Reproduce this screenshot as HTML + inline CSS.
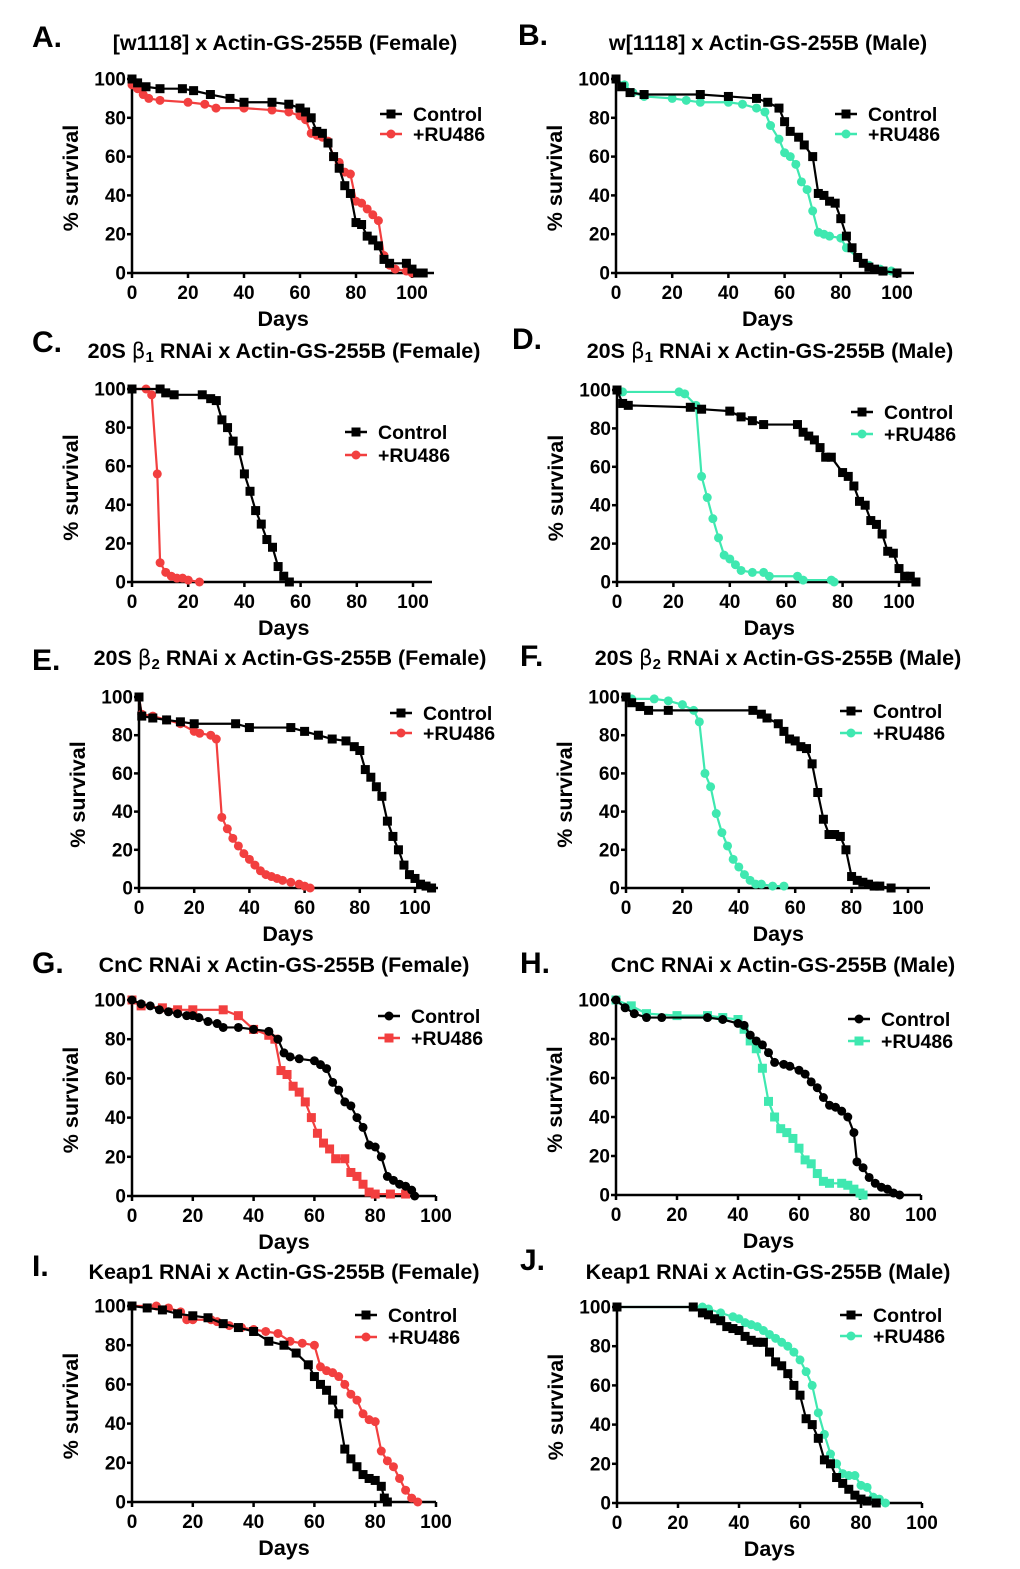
<!DOCTYPE html>
<html><head><meta charset="utf-8"><style>
html,body{margin:0;padding:0;background:#fff;}
svg{display:block;font-family:"Liberation Sans",Arial,sans-serif;font-weight:bold;}
</style></head><body>
<svg id="fig" width="1020" height="1569" viewBox="0 0 1020 1569" xmlns="http://www.w3.org/2000/svg"></svg>
<script>
// ---- data (days / % survival) ----
const aCtrlDays=[0,2,5,10,18,22,28,35,40,50,56,60,62,64,66,68,70,72,74,76,78,80,82,84,86,88,90,92,98,100,102,104];
const aCtrlVals=[100,98,96,95,95,94,92,90,88,88,87,85,83,80,73,72,67,60,54,45,41,26,25,19,17,14,7,5,5,2,0,0];
const aRuDays=[0,2,4,6,10,20,26,30,40,50,56,60,62,64,66,68,70,72,74,76,78,80,82,84,86,88,90,92,94,98,100];
const aRuVals=[97,95,92,90,89,88,87,85,85,84,83,81,79,72,71,70,68,60,57,52,51,37,36,33,30,27,9,4,2,1,0];

const bCtrlDays=[0,2,5,10,30,40,50,54,58,60,62,65,67,70,72,74,76,78,80,82,84,86,88,90,92,95,100];
const bCtrlVals=[100,96,93,92,92,91,90,88,85,78,73,70,66,60,41,40,37,36,28,19,13,8,5,3,2,1,0];
const bRuDays=[0,3,6,10,20,25,30,40,45,50,53,55,58,60,62,64,66,68,70,72,74,76,80,82,86,90,94,98];
const bRuVals=[100,97,93,91,90,89,88,88,87,85,83,76,69,62,60,56,47,43,32,21,20,19,18,13,8,4,2,1];

const cCtrlDays=[0,10,12,15,25,28,30,32,34,36,38,40,42,44,46,48,50,52,54,56];
const cCtrlVals=[100,100,98,97,97,95,94,84,80,73,68,56,47,37,30,22,18,8,3,0];
const cRuDays=[0,5,7,9,10,12,14,16,18,20,24];
const cRuVals=[100,100,97,56,10,5,3,2,2,1,0];

const dCtrlDays=[0,2,4,26,30,40,44,48,52,64,66,68,70,72,74,76,80,82,84,86,88,90,92,94,96,98,100,102,104,106];
const dCtrlVals=[100,93,92,91,90,89,86,84,82,82,78,76,74,70,65,65,57,55,50,42,40,32,30,25,16,15,7,3,3,0];
const dRuDays=[0,2,22,24,28,30,32,34,36,38,40,42,44,48,52,54,64,66,76,77];
const dRuVals=[100,99,99,98,92,55,44,33,23,14,12,9,6,5,5,3,3,1,1,0];

const eCtrlDays=[0,1,5,10,15,20,35,40,55,60,65,70,75,78,80,82,84,86,88,90,92,94,96,98,100,102,104,106];
const eCtrlVals=[100,90,89,88,87,86,86,84,84,82,80,78,77,74,72,62,58,53,48,35,27,20,12,7,5,2,1,0];
const eRuDays=[0,1,5,10,15,20,22,26,28,30,32,34,36,38,40,42,44,46,48,50,52,55,58,60,62];
const eRuVals=[100,91,90,88,86,82,81,80,78,37,31,26,22,18,15,12,9,7,6,5,4,3,2,1,0];

const fCtrlDays=[0,2,5,8,15,45,48,50,54,56,58,60,62,64,66,68,70,72,74,76,78,80,82,84,86,88,90,94];
const fCtrlVals=[100,97,95,93,93,93,91,89,86,82,78,77,74,73,65,50,36,28,28,27,20,6,4,3,2,1,1,0];
const fRuDays=[0,2,10,15,20,24,26,28,30,32,34,36,38,40,42,44,46,48,52,56];
const fRuVals=[100,99,99,98,96,93,87,60,53,39,29,22,15,11,7,4,2,2,1,1];

const gCtrlDays=[0,3,6,9,12,15,18,20,22,25,28,30,35,40,45,48,50,52,55,60,62,64,66,68,70,72,74,76,78,80,82,84,86,88,90,92,93];
const gCtrlVals=[100,98,97,95,94,93,92,92,91,89,88,86,86,85,84,80,73,71,70,69,67,65,58,54,48,46,40,35,26,25,20,10,8,6,5,3,0];
const gRuDays=[0,3,10,15,20,30,35,40,45,47,49,51,53,55,57,59,61,63,65,67,70,72,74,76,78,80,85,90];
const gRuVals=[100,97,96,95,95,95,92,85,82,80,64,62,56,53,48,40,32,27,24,19,19,12,10,6,2,1,1,1];

const hCtrlDays=[0,3,6,10,15,30,35,40,42,44,46,48,50,52,55,57,60,62,64,66,68,70,72,74,76,78,79,81,83,85,87,89,91,93];
const hCtrlVals=[100,96,93,91,91,91,90,88,87,82,79,77,73,68,67,66,64,62,58,55,50,46,45,43,40,32,17,14,9,6,4,3,1,0];
const hRuDays=[0,5,10,20,30,35,40,42,44,46,48,50,52,54,56,58,60,62,64,66,68,70,74,76,78,80,81];
const hRuVals=[100,97,93,92,92,91,90,85,79,75,65,48,40,34,32,29,24,18,16,11,7,6,6,5,3,1,0];

const iCtrlDays=[0,5,10,15,20,25,30,35,40,45,50,54,58,60,62,64,66,68,70,72,74,76,78,80,82,83,84];
const iCtrlVals=[100,99,98,96,95,94,91,89,87,82,80,76,70,64,60,57,52,45,27,22,18,14,12,11,8,2,0];
const iRuDays=[0,8,12,16,18,20,26,28,32,36,40,44,48,52,56,60,62,64,66,68,70,72,74,76,78,80,82,84,86,88,90,92,94];
const iRuVals=[100,100,99,97,93,93,93,92,90,89,88,87,86,82,81,80,69,67,66,64,60,55,52,45,42,41,26,21,18,12,6,2,0];

const jCtrlDays=[0,25,28,30,32,34,36,38,40,42,44,46,48,50,52,54,56,58,60,62,64,66,68,70,72,74,76,78,80,82,85];
const jCtrlVals=[100,100,97,96,94,93,90,89,88,85,83,82,82,77,72,70,66,60,55,43,40,33,22,20,13,10,7,4,2,1,0];
const jRuDays=[0,28,30,34,38,40,42,44,46,48,50,52,54,56,58,60,62,64,66,68,70,72,74,76,78,80,82,84,86,88];
const jRuVals=[100,100,99,97,95,94,92,91,90,88,86,84,82,80,77,73,67,60,46,35,25,20,15,14,14,9,8,3,2,0];

const xTicks=[0,20,40,60,80,100];
const yTicks=[0,20,40,60,80,100];

const RED="#f23f3f", TEAL="#3fe8b0", BLACK="#000";
const NS="http://www.w3.org/2000/svg";
const svg=document.getElementById('fig');
function mk(tag,attrs,parent){const e=document.createElementNS(NS,tag);for(const k in attrs)e.setAttribute(k,attrs[k]);(parent||svg).appendChild(e);return e;}

const panels=[
 {id:'a',letter:'A.',lx:32,ly:47,title:['[w1118] x Actin-GS-255B (Female)'],tx:285,ty:50,x0:132,x100:412,xEnd:434,yTop:79,yBot:273,legX:380,legY:114,legGap:20,dx:54,ctrl:[aCtrlDays,aCtrlVals,'sq'],ru:[aRuDays,aRuVals,'ci',RED]},
 {id:'b',letter:'B.',lx:518,ly:45,title:['w[1118] x Actin-GS-255B (Male)'],tx:768,ty:50,x0:616,x100:897,xEnd:914,yTop:79,yBot:273,legX:835,legY:114,legGap:20,dx:54,ctrl:[bCtrlDays,bCtrlVals,'sq'],ru:[bRuDays,bRuVals,'ci',TEAL]},
 {id:'c',letter:'C.',lx:32,ly:352,title:['20S ','β','1',' RNAi x Actin-GS-255B (Female)'],tx:284,ty:358,x0:132,x100:413,xEnd:432,yTop:389,yBot:582,legX:345,legY:432,legGap:23,dx:54,ctrl:[cCtrlDays,cCtrlVals,'sq'],ru:[cRuDays,cRuVals,'ci',RED]},
 {id:'d',letter:'D.',lx:512,ly:349,title:['20S ','β','1',' RNAi x Actin-GS-255B (Male)'],tx:770,ty:358,x0:617,x100:899,xEnd:920,yTop:390,yBot:582,legX:851,legY:412,legGap:22,dx:54,ctrl:[dCtrlDays,dCtrlVals,'sq'],ru:[dRuDays,dRuVals,'ci',TEAL]},
 {id:'e',letter:'E.',lx:32,ly:670,title:['20S ','β','2',' RNAi x Actin-GS-255B (Female)'],tx:290,ty:665,x0:139,x100:415,xEnd:438,yTop:697,yBot:888,legX:390,legY:713,legGap:20,dx:54,ctrl:[eCtrlDays,eCtrlVals,'sq'],ru:[eRuDays,eRuVals,'ci',RED]},
 {id:'f',letter:'F.',lx:520,ly:666,title:['20S ','β','2',' RNAi x Actin-GS-255B (Male)'],tx:778,ty:665,x0:626,x100:908,xEnd:930,yTop:697,yBot:888,legX:840,legY:711,legGap:22,dx:54,ctrl:[fCtrlDays,fCtrlVals,'sq'],ru:[fRuDays,fRuVals,'ci',TEAL]},
 {id:'g',letter:'G.',lx:32,ly:973,title:['CnC RNAi x Actin-GS-255B (Female)'],tx:284,ty:972,x0:132,x100:436,xEnd:436,yTop:1000,yBot:1196,legX:378,legY:1016,legGap:22,dx:50,ctrl:[gCtrlDays,gCtrlVals,'ci'],ru:[gRuDays,gRuVals,'sq',RED]},
 {id:'h',letter:'H.',lx:520,ly:973,title:['CnC RNAi x Actin-GS-255B (Male)'],tx:783,ty:972,x0:616,x100:921,xEnd:921,yTop:1000,yBot:1195,legX:848,legY:1019,legGap:22,dx:50,ctrl:[hCtrlDays,hCtrlVals,'ci'],ru:[hRuDays,hRuVals,'sq',TEAL]},
 {id:'i',letter:'I.',lx:32,ly:1276,title:['Keap1 RNAi x Actin-GS-255B (Female)'],tx:284,ty:1279,x0:132,x100:436,xEnd:436,yTop:1306,yBot:1502,legX:355,legY:1315,legGap:22,dx:50,ctrl:[iCtrlDays,iCtrlVals,'sq'],ru:[iRuDays,iRuVals,'ci',RED]},
 {id:'j',letter:'J.',lx:520,ly:1270,title:['Keap1 RNAi x Actin-GS-255B (Male)'],tx:768,ty:1279,x0:617,x100:922,xEnd:922,yTop:1307,yBot:1503,legX:840,legY:1315,legGap:21,dx:50,ctrl:[jCtrlDays,jCtrlVals,'sq'],ru:[jRuDays,jRuVals,'ci',TEAL]}
];

function marker(g,type,x,y,color){
  if(type==='sq'){const m=mk('rect',{x:x-4.5,y:y-4.5,width:9,height:9,fill:color},g);}
  else{const m=mk('circle',{cx:x,cy:y,r:4.5,fill:color},g);}
}

panels.forEach(p=>{
  const g=mk('g',{});
  
  
  const X=d=>p.x0+(p.x100-p.x0)*d/100;
  const Y=v=>p.yBot-(p.yBot-p.yTop)*v/100;
  const L=mk('text',{x:p.lx,y:p.ly,'font-size':30},g);L.textContent=p.letter;
  
  
  const T=mk('text',{x:p.tx,y:p.ty,'font-size':21.5,'text-anchor':'middle'},g);
  
  
  if(p.title.length===1){T.textContent=p.title[0];}
  else{
    const t1=mk('tspan',{},T);t1.textContent=p.title[0];
    const t2=mk('tspan',{'font-family':'"DejaVu Sans",sans-serif','font-weight':'normal'},T);t2.textContent=p.title[1];
    const t3=mk('tspan',{'font-size':15,dy:4},T);t3.textContent=p.title[2];
    const t4=mk('tspan',{dy:-4},T);t4.textContent=p.title[3];
  }
  const ax=mk('path',{d:`M${p.x0} ${p.yTop}V${p.yBot}H${p.xEnd}`,stroke:'#000','stroke-width':2.5,fill:'none'},g);
  
  
  yTicks.forEach(v=>{
    mk('line',{x1:p.x0-5,x2:p.x0,y1:Y(v),y2:Y(v),stroke:'#000','stroke-width':2.5},g);
    const t=mk('text',{x:p.x0-6,y:Y(v)+6.5,'font-size':19,'text-anchor':'end'},g);t.textContent=v;
    
    
  });
  xTicks.forEach(v=>{
    mk('line',{x1:X(v),x2:X(v),y1:p.yBot,y2:p.yBot+5,stroke:'#000','stroke-width':2.5},g);
    const t=mk('text',{x:X(v),y:p.yBot+26,'font-size':19,'text-anchor':'middle'},g);t.textContent=v;
    
    
  });
  const xl=mk('text',{x:X(p.dx),y:p.yBot+53,'font-size':21.5,'text-anchor':'middle'},g);xl.textContent='Days';
  
  
  const ym=(p.yTop+p.yBot)/2+2, yx=p.x0-54;
  const yl=mk('text',{x:yx,y:ym,'font-size':21.5,'text-anchor':'middle',transform:`rotate(-90 ${yx} ${ym})`},g);yl.textContent='% survival';
  
  
  [[p.ru,p.ru[3],'ru486'],[p.ctrl,BLACK,'control']].forEach(([s,col,nm])=>{
    const [ds,vs,mt]=s;
    const pts=ds.map((d,i)=>X(d)+','+Y(vs[i])).join(' ');
    const pl=mk('polyline',{points:pts,fill:'none',stroke:col,'stroke-width':2.2},g);
    
    
    ds.forEach((d,i)=>marker(g,mt,X(d),Y(vs[i]),col));
  });
  [[p.ctrl[2],BLACK,'Control',0],[p.ru[2],p.ru[3],'+RU486',1]].forEach(([mt,col,lab,k])=>{
    const ly=p.legY+k*p.legGap;
    mk('line',{x1:p.legX,x2:p.legX+22,y1:ly,y2:ly,stroke:col,'stroke-width':2.5},g);
    marker(g,mt,p.legX+11,ly,col);
    const t=mk('text',{x:p.legX+33,y:ly+7,'font-size':19.5},g);t.textContent=lab;
    
    
  });
});
</script>
</body></html>
